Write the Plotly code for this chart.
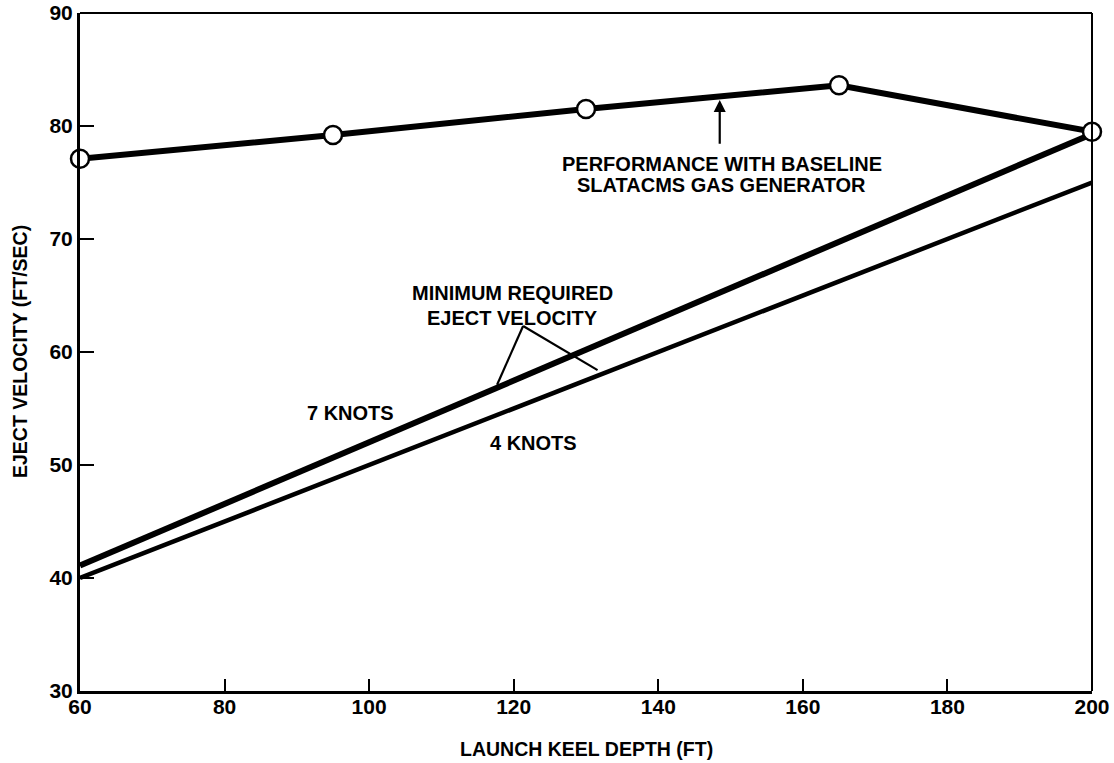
import plotly.graph_objects as go

# ---- data ----
perf_depth = [60, 95, 130, 165, 200]
perf_velocity = [77.1, 79.2, 81.5, 83.6, 79.5]

knots7_depth = [60, 200]
knots7_velocity = [41.1, 79.3]

knots4_depth = [60, 200]
knots4_velocity = [40.0, 75.0]

x_ticks = [60, 80, 100, 120, 140, 160, 180, 200]
y_ticks = [30, 40, 50, 60, 70, 80, 90]

# leader lines for "minimum required" label: apex -> 7 knots line, apex -> 4 knots line
leader_apex = (121.3, 62.3)
leader_end_7 = (117.7, 57.1)
leader_end_4 = (131.6, 58.4)

# arrow for performance label
arrow_tip = (148.5, 82.3)
arrow_tail = (148.5, 78.3)

# text labels (x, y, text)
labels = [
    (148.8, 76.6, "PERFORMANCE WITH BASELINE"),
    (148.8, 74.75, "SLATACMS GAS GENERATOR"),
    (119.8, 65.2, "MINIMUM REQUIRED"),
    (119.8, 63.0, "EJECT VELOCITY"),
    (97.4, 54.6, "7 KNOTS"),
    (122.7, 51.95, "4 KNOTS"),
]

FONT = "Liberation Sans, Arial, Helvetica, sans-serif"
BOLD = dict(family=FONT, color="black", weight=700)

fig = go.Figure()

fig.add_trace(go.Scatter(x=knots7_depth, y=knots7_velocity, mode="lines",
                         line=dict(color="black", width=6), cliponaxis=False, showlegend=False))
fig.add_trace(go.Scatter(x=knots4_depth, y=knots4_velocity, mode="lines",
                         line=dict(color="black", width=4.5), cliponaxis=False, showlegend=False))
fig.add_trace(go.Scatter(x=perf_depth, y=perf_velocity, mode="lines+markers",
                         line=dict(color="black", width=6),
                         marker=dict(symbol="circle", size=18, color="white",
                                     line=dict(color="black", width=2.5)),
                         cliponaxis=False, showlegend=False))

for end in (leader_end_7, leader_end_4):
    fig.add_shape(type="line", xref="x", yref="y",
                  x0=leader_apex[0], y0=leader_apex[1], x1=end[0], y1=end[1],
                  line=dict(color="black", width=2.2))

# top & right frame (thinner)
fig.add_shape(type="line", xref="paper", yref="paper", x0=0, x1=1, y0=1, y1=1,
              line=dict(color="black", width=2))
fig.add_shape(type="line", xref="paper", yref="paper", x0=1, x1=1, y0=0, y1=1,
              line=dict(color="black", width=2))

fig.add_annotation(x=arrow_tip[0], y=arrow_tip[1], ax=arrow_tail[0], ay=arrow_tail[1],
                   xref="x", yref="y", axref="x", ayref="y", text="", showarrow=True,
                   arrowhead=2, arrowsize=1.1, arrowwidth=2.2, arrowcolor="black")

for lx, ly, lt in labels:
    fig.add_annotation(x=lx, y=ly, xref="x", yref="y", showarrow=False,
                       text=lt, font=dict(BOLD, size=20))

# axis titles
fig.add_annotation(x=0.5, y=0, xref="paper", yref="paper", yshift=-58, yanchor="middle",
                   showarrow=False, text="LAUNCH KEEL DEPTH (FT)", font=dict(BOLD, size=19.5))
fig.add_annotation(x=0, y=0.5, xref="paper", yref="paper", xshift=-60, xanchor="center",
                   textangle=-90, showarrow=False, text="EJECT VELOCITY (FT/SEC)",
                   font=dict(BOLD, size=19.5))

fig.update_layout(
    width=1114, height=763,
    margin=dict(l=80, r=22, t=13, b=72, autoexpand=False),
    paper_bgcolor="white", plot_bgcolor="white",
    xaxis=dict(range=[60, 200], tickvals=x_ticks, ticks="inside", ticklen=12, tickwidth=2,
               tickcolor="black", showgrid=False, zeroline=False, automargin=False,
               showline=True, linecolor="black", linewidth=3,
               tickfont=dict(BOLD, size=21), ticklabelstandoff=-5),
    yaxis=dict(range=[30, 90], tickvals=y_ticks, ticks="inside", ticklen=14, tickwidth=2,
               tickcolor="black", showgrid=False, zeroline=False, automargin=False,
               showline=True, linecolor="black", linewidth=3,
               tickfont=dict(BOLD, size=21)),
)

fig.write_html("out.html", config={"displayModeBar": False},
               post_script="document.body.style.margin='0';document.body.style.overflow='hidden';")
